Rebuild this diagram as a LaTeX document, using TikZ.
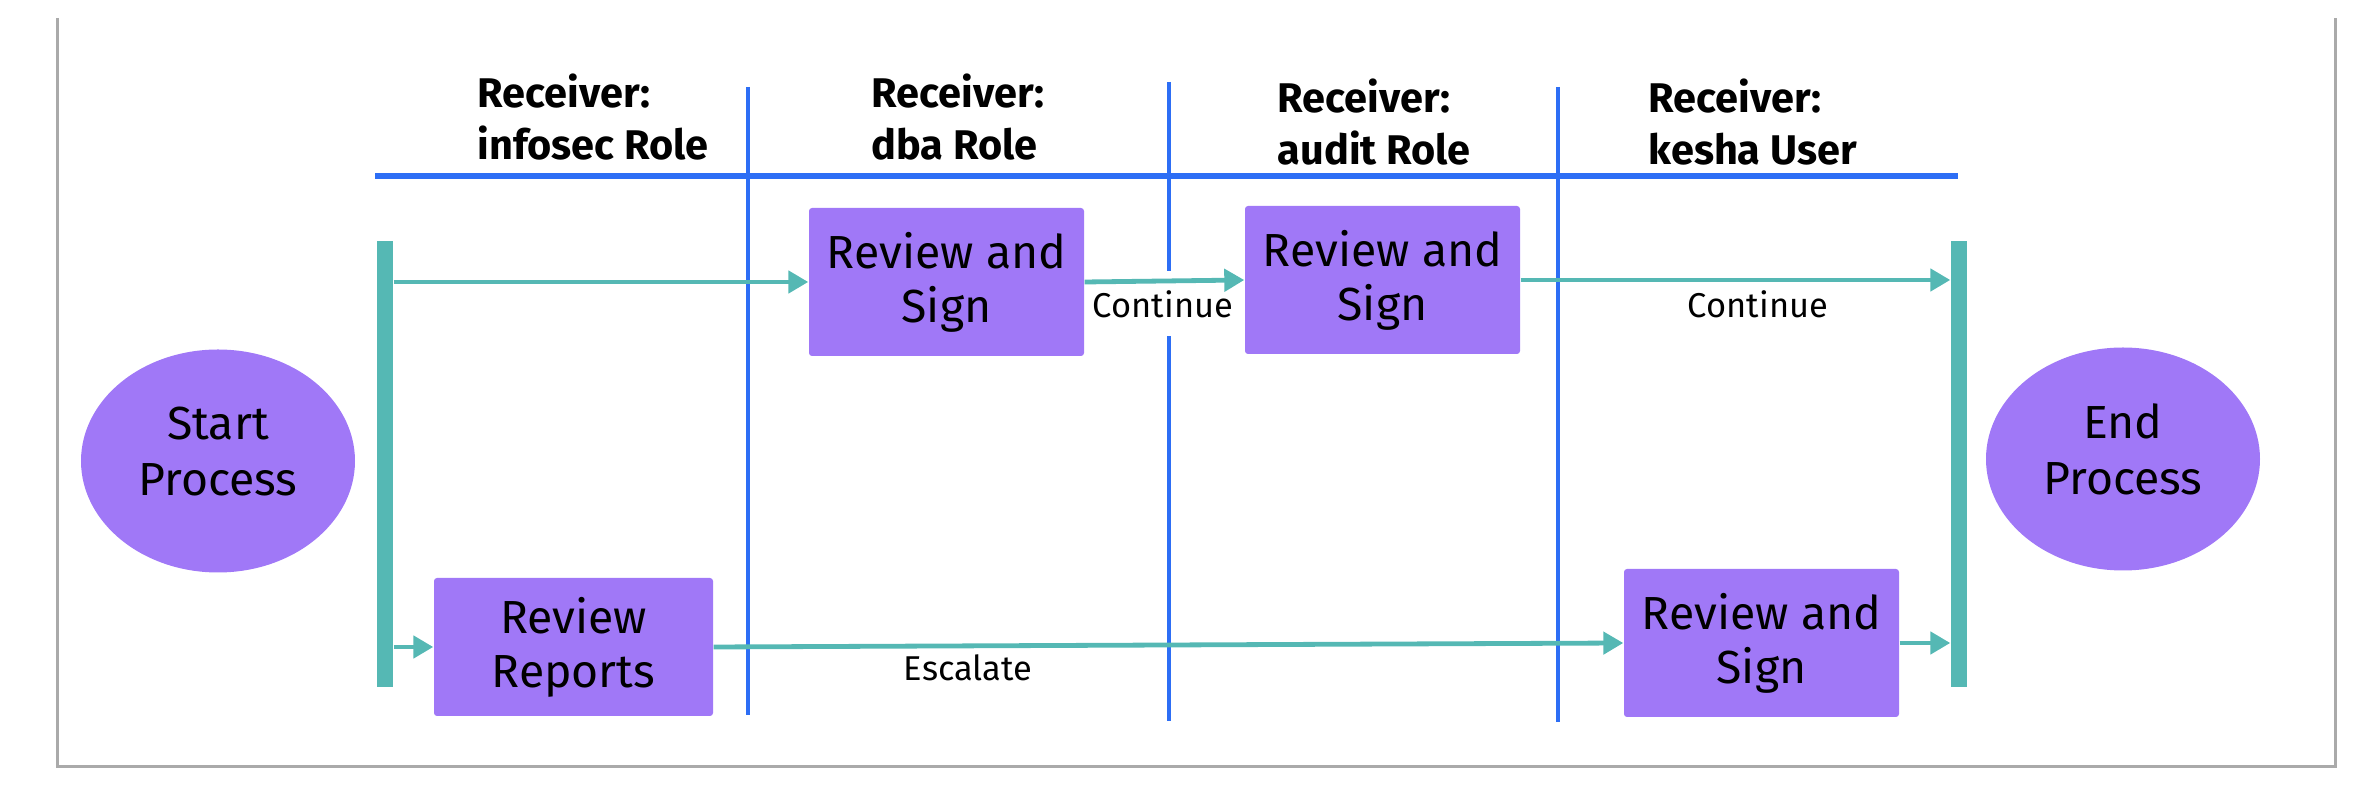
\documentclass[tikz,border=0pt]{standalone}
\usepackage{fontspec}
\setmainfont{Fira Sans}
\usetikzlibrary{arrows.meta,shapes.geometric}
\definecolor{laneblue}{HTML}{2D6EF5}
\definecolor{flowteal}{HTML}{55B8B4}
\definecolor{taskpurple}{HTML}{A078F7}
\definecolor{framegray}{HTML}{AAAAAA}

\begin{document}
\begin{tikzpicture}[
  lane/.style={line width=0.045cm,color=laneblue},
  lanehead/.style={anchor=north west,inner sep=0,align=left,
    font=\fontsize{11.8}{14.8}\selectfont\bfseries},
  bar/.style={rectangle,fill=flowteal,inner sep=0,
    minimum width=0.16cm,minimum height=4.46cm},
  terminal/.style={ellipse,fill=taskpurple,inner sep=0,align=center,
    minimum width=2.74cm,minimum height=2.23cm,
    font=\fontsize{13.2}{15.8}\selectfont},
  task/.style={rectangle,rounded corners=0.03cm,fill=taskpurple,inner sep=0,
    align=center,minimum width=2.75cm,minimum height=1.48cm,
    font=\fontsize{13.2}{15.4}\selectfont},
  flowlabel/.style={inner sep=0,font=\fontsize{9.8}{11}\selectfont},
  flowarrow/.style={-{Triangle[length=0.2cm,width=0.22cm]},
    line width=0.048cm,color=flowteal}
]
\useasboundingbox (0,0) rectangle (23.54,7.88);
\draw [line width=0.03cm,color=framegray] (0.57,7.70) -- (0.57,0.21)
  -- (23.35,0.21) -- (23.35,7.70);
\node [lanehead] (infosec) at (4.77,7.15) {Receiver:\\infosec Role};
\node [lanehead] (dba) at (8.71,7.15) {Receiver:\\dba Role};
\node [lanehead] (audit) at (12.77,7.10) {Receiver:\\audit Role};
\node [lanehead] (kesha) at (16.48,7.10) {Receiver:\\kesha User};
\draw [lane,line width=0.055cm] (3.75,6.12) -- (19.58,6.12);
\draw [lane] (7.48,7.01) -- (7.48,0.73);
\draw [lane] (11.69,7.06) -- (11.69,0.67);
\draw [lane] (15.58,7.01) -- (15.58,0.66);
\node [bar] (startbar) at (3.85,3.24) {};
\node [bar] (endbar) at (19.59,3.24) {};
\node [terminal] (start) at (2.18,3.27) {Start\\Process\rule[-0.2cm]{0pt}{0pt}};
\node [terminal] (end) at (21.23,3.29) {End\\Process\rule[-0.2cm]{0pt}{0pt}};
\node [task] (dbabox) at (9.465,5.06) {Review and\\Sign};
\node [task] (auditbox) at (13.825,5.08) {Review and\\Sign};
\node [task,minimum width=2.79cm,minimum height=1.38cm] (infobox)
  at (5.735,1.41) {Review\\Reports};
\node [task] (keshabox) at (17.615,1.45) {Review and\\Sign};
\node [flowlabel,fill=white,inner xsep=0.05cm,minimum height=0.65cm] (cont1)
  at (11.63,4.84) {Continue};
\node [flowlabel] (cont2) at (17.58,4.84) {Continue};
\node [flowlabel] (escalate) at (9.68,1.20) {Escalate};
\draw [flowarrow] (startbar.east |- dbabox.west) -- (dbabox.west);
\draw [flowarrow] (dbabox.east) -- (auditbox.west);
\draw [flowarrow] (auditbox.east) -- (auditbox.east -| endbar.west);
\draw [flowarrow] (startbar.east |- infobox.west) -- (infobox.west);
\draw [flowarrow] (infobox.east) -- (keshabox.west);
\draw [flowarrow] (keshabox.east) -- (keshabox.east -| endbar.west);
\end{tikzpicture}
\end{document}
